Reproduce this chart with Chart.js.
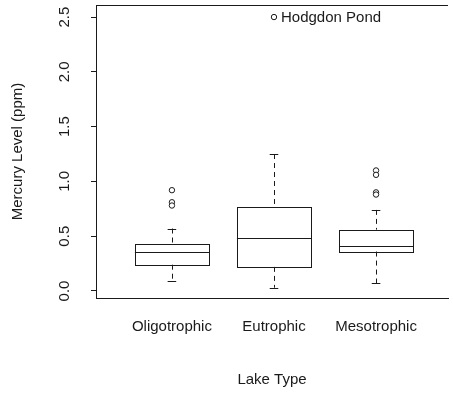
<!DOCTYPE html>
<html>
<head>
<meta charset="utf-8">
<script src="https://cdn.jsdelivr.net/npm/chart.js@4.4.1/dist/chart.umd.min.js"></script>
<style>
  body { margin: 0; background: #fff; }
  #wrap { width: 453px; height: 395px; }
</style>
</head>
<body>
<div id="wrap"><canvas id="mercuryChart"></canvas></div>
<script>
// Lake types along the x axis
const categories = ['Oligotrophic', 'Eutrophic', 'Mesotrophic'];

// Five-number summaries per lake type (ppm)
const whiskerLow = [0.09, 0.03, 0.07];
const q1 = [0.24, 0.22, 0.36];
const median = [0.36, 0.48, 0.41];
const q3 = [0.43, 0.77, 0.56];
const whiskerHigh = [0.57, 1.25, 0.74];

// Outlying lakes: [category index, mercury level]
const outliers = [
    [0, 0.92], [0, 0.81], [0, 0.78],
    [1, 2.50],
    [2, 1.10], [2, 1.06], [2, 0.90], [2, 0.88]
];

// Named point
const namedLake = { name: 'Hodgdon Pond', cat: 1, value: 2.50 };

const yTicks = [0, 0.5, 1.0, 1.5, 2.0, 2.5];

const FONT = '"Liberation Sans", Arial, Helvetica, sans-serif';
const INK = '#1a1a1a';

// box, whiskers and caps, drawn through the chart scales
const boxPlugin = {
    id: 'boxes',
    beforeDatasetsDraw(chart) {
        const { ctx, scales: { x, y } } = chart;
        const halfBox = 0.363;
        const halfCap = 0.042;
        ctx.save();
        ctx.strokeStyle = INK;
        ctx.lineWidth = 1;
        categories.forEach((c, i) => {
            const xl = x.getPixelForValue(i - halfBox);
            const xr = x.getPixelForValue(i + halfBox);
            const xc = x.getPixelForValue(i);
            const cl = x.getPixelForValue(i - halfCap);
            const cr = x.getPixelForValue(i + halfCap);
            const yq1 = y.getPixelForValue(q1[i]);
            const yq3 = y.getPixelForValue(q3[i]);
            const ym = y.getPixelForValue(median[i]);
            const ylo = y.getPixelForValue(whiskerLow[i]);
            const yhi = y.getPixelForValue(whiskerHigh[i]);

            // box
            ctx.setLineDash([]);
            ctx.strokeRect(Math.round(xl) + 0.5, Math.round(yq3) + 0.5, Math.round(xr - xl), Math.round(yq1 - yq3));
            // median
            ctx.beginPath();
            ctx.moveTo(xl, Math.round(ym) + 0.5);
            ctx.lineTo(xr, Math.round(ym) + 0.5);
            ctx.stroke();
            // caps
            ctx.beginPath();
            ctx.moveTo(cl, Math.round(yhi) + 0.5);
            ctx.lineTo(cr, Math.round(yhi) + 0.5);
            ctx.moveTo(cl, Math.round(ylo) + 0.5);
            ctx.lineTo(cr, Math.round(ylo) + 0.5);
            ctx.stroke();
            // dashed whiskers
            ctx.setLineDash([5, 4]);
            ctx.beginPath();
            ctx.moveTo(Math.round(xc) + 0.5, yhi);
            ctx.lineTo(Math.round(xc) + 0.5, yq3);
            ctx.moveTo(Math.round(xc) + 0.5, yq1);
            ctx.lineTo(Math.round(xc) + 0.5, ylo);
            ctx.stroke();
        });
        ctx.restore();
    },
    afterDraw(chart) {
        const { ctx, chartArea, scales: { x, y } } = chart;
        ctx.save();
        // top frame line
        ctx.strokeStyle = INK;
        ctx.lineWidth = 1;
        ctx.beginPath();
        ctx.moveTo(chartArea.left, chartArea.top + 0.5);
        ctx.lineTo(chartArea.right, chartArea.top + 0.5);
        ctx.stroke();

        // y tick labels, read bottom to top
        ctx.fillStyle = INK;
        ctx.font = '15px ' + FONT;
        ctx.textAlign = 'center';
        ctx.textBaseline = 'middle';
        y.ticks.forEach(t => {
            ctx.save();
            ctx.translate(65, y.getPixelForValue(t.value));
            ctx.rotate(-Math.PI / 2);
            ctx.fillText(t.value.toFixed(1), 0, 0);
            ctx.restore();
        });

        // name beside the extreme point
        ctx.textAlign = 'left';
        ctx.fillText(namedLake.name, x.getPixelForValue(namedLake.cat) + 7, y.getPixelForValue(namedLake.value) + 1);
        ctx.restore();
    }
};

new Chart(document.getElementById('mercuryChart'), {
    type: 'scatter',
    data: {
        datasets: [{
            label: 'Outliers',
            data: outliers.map(o => ({ x: o[0], y: o[1] })),
            pointStyle: 'circle',
            pointRadius: 2.7,
            borderWidth: 1,
            borderColor: INK,
            backgroundColor: '#fff'
        }]
    },
    options: {
        responsive: true,
        maintainAspectRatio: false,
        animation: false,
        layout: { padding: { top: 5, right: 0, left: 0, bottom: 0 } },
        plugins: { legend: { display: false }, tooltip: { enabled: false } },
        scales: {
            x: {
                type: 'linear',
                min: -0.744,
                max: 2.705,
                afterBuildTicks: s => { s.ticks = categories.map((c, i) => ({ value: i })); },
                afterFit: s => { s.height = 97; },
                grid: { display: false },
                border: { display: true, color: INK, width: 1 },
                ticks: {
                    color: INK,
                    font: { family: FONT, size: 15 },
                    padding: 12,
                    callback: v => categories[v]
                },
                title: {
                    display: true,
                    text: 'Lake Type',
                    color: INK,
                    font: { family: FONT, size: 15 },
                    padding: { top: 0, bottom: 6 }
                }
            },
            y: {
                min: -0.064,
                max: 2.61,
                afterBuildTicks: s => { s.ticks = yTicks.map(v => ({ value: v })); },
                afterFit: s => { s.width = 96; },
                grid: { drawOnChartArea: false, drawTicks: true, tickLength: 5, color: INK },
                border: { display: true, color: INK, width: 1 },
                ticks: { display: false },
                title: {
                    display: true,
                    text: 'Mercury Level (ppm)',
                    color: INK,
                    font: { family: FONT, size: 15 },
                    padding: { top: 9, bottom: 0 }
                }
            }
        }
    },
    plugins: [boxPlugin]
});
</script>
</body>
</html>
